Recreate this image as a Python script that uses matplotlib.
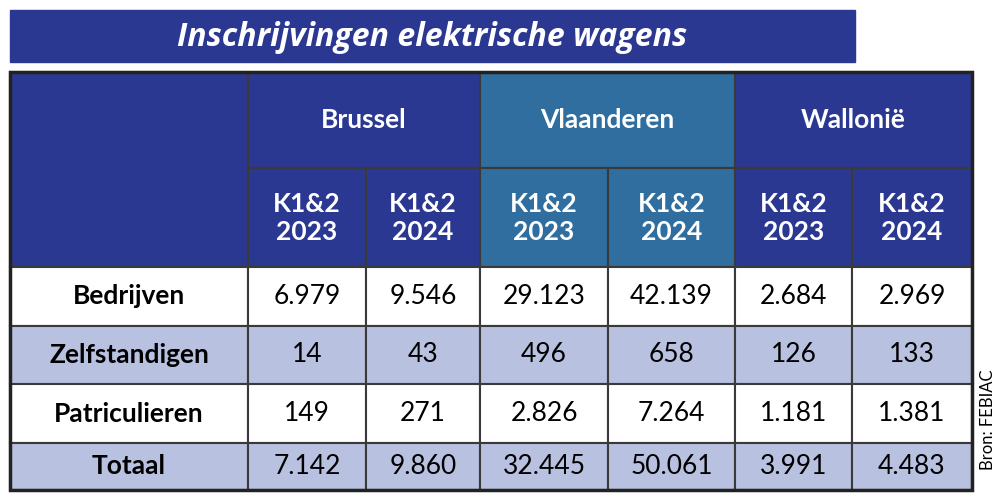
import matplotlib.pyplot as plt
from matplotlib.patches import Rectangle

title = "Inschrijvingen elektrische wagens"
regions = ["Brussel", "Vlaanderen", "Wallonië"]
periods = ["K1&2\n2023", "K1&2\n2024"]
row_labels = ["Bedrijven", "Zelfstandigen", "Patriculieren", "Totaal"]
values = [
    ["6.979", "9.546", "29.123", "42.139", "2.684", "2.969"],
    ["14", "43", "496", "658", "126", "133"],
    ["149", "271", "2.826", "7.264", "1.181", "1.381"],
    ["7.142", "9.860", "32.445", "50.061", "3.991", "4.483"],
]
source = "Bron: FEBIAC"

# layout in pixels
col_x = [10, 248, 366, 480, 608, 735, 852, 972]
row_y = [72, 168, 267, 326, 384, 443, 490]
dark = "#2b3892"
teal = "#2f6e9e"
light = "#b9c1e0"
line = "#3a3a3a"

fig = plt.figure(figsize=(10, 5.01), dpi=100)
ax = fig.add_axes([0, 0, 1, 1])
ax.set_xlim(0, 1000)
ax.set_ylim(501, 0)
ax.axis("off")

ax.add_patch(Rectangle((10, 10), 845, 52, color=dark))
ax.text(432, 37, title, color="white", fontsize=23, fontweight="bold",
        fontstyle="italic", ha="center", va="center", family="Open Sans")

def cell(x0, x1, y0, y1, fc):
    ax.add_patch(Rectangle((x0, y0), x1 - x0, y1 - y0, facecolor=fc,
                           edgecolor=line, linewidth=1.5))

# header
cell(col_x[0], col_x[1], row_y[0], row_y[2], dark)
for i, reg in enumerate(regions):
    x0, x1 = col_x[1 + 2 * i], col_x[3 + 2 * i]
    fc = teal if i == 1 else dark
    cell(x0, x1, row_y[0], row_y[1], fc)
    ax.text((x0 + x1) / 2, (row_y[0] + row_y[1]) / 2, reg, color="white",
            fontsize=19, fontweight="bold", ha="center", va="center", family="Lato")
    for j, p in enumerate(periods):
        a, b = col_x[1 + 2 * i + j], col_x[2 + 2 * i + j]
        cell(a, b, row_y[1], row_y[2], fc)
        ax.text((a + b) / 2, (row_y[1] + row_y[2]) / 2, p, color="white",
                fontsize=19, fontweight="bold", ha="center", va="center",
                family="Lato", linespacing=1.2)

# body
for r, lab in enumerate(row_labels):
    y0, y1 = row_y[2 + r], row_y[3 + r]
    fc = "white" if r % 2 == 0 else light
    cell(col_x[0], col_x[1], y0, y1, fc)
    ax.text((col_x[0] + col_x[1]) / 2, (y0 + y1) / 2, lab, fontsize=19,
            fontweight="bold", ha="center", va="center", family="Lato", color="black")
    for c, v in enumerate(values[r]):
        a, b = col_x[1 + c], col_x[2 + c]
        cell(a, b, y0, y1, fc)
        ax.text((a + b) / 2, (y0 + y1) / 2, v, fontsize=19, ha="center",
                va="center", family="Lato", color="black")

ax.add_patch(Rectangle((10, 72), 962, 418, fill=False, edgecolor="#222222", linewidth=2.5))

ax.text(988, 420, source, rotation=90, fontsize=12, ha="center", va="center",
        family="Lato", color="black")

fig.savefig("out.png", dpi=100)
